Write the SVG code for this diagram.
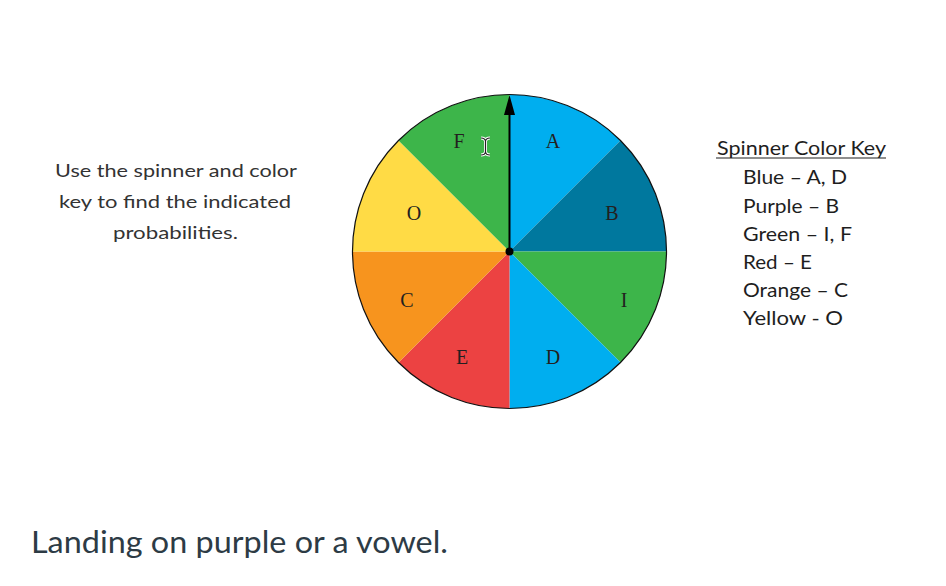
<svg xmlns="http://www.w3.org/2000/svg" width="946" height="586" viewBox="0 0 946 586">
<style>
.lbl{font-family:"Liberation Serif","Times New Roman",serif;font-size:20px;fill:#231f20;text-anchor:middle}
.inst{font-family:Lato,"Open Sans",sans-serif;font-size:18px;fill:#333;text-anchor:middle}
.key{font-family:Lato,"Open Sans",sans-serif;font-size:19px;fill:#1e1e1e}
.q{font-family:Lato,"Open Sans",sans-serif;font-size:31px;fill:#2d3b45}
</style>
<rect width="946" height="586" fill="#fff"/>
<g id="spinner">
<path d="M509.5 251.5 L509.5 94.5 A157 157 0 0 1 620.5 140.5 Z" fill="#00aeef"/>
<path d="M509.5 251.5 L620.5 140.5 A157 157 0 0 1 666.5 251.5 Z" fill="#00789e"/>
<path d="M509.5 251.5 L666.5 251.5 A157 157 0 0 1 620.5 362.5 Z" fill="#3db54a"/>
<path d="M509.5 251.5 L620.5 362.5 A157 157 0 0 1 509.5 408.5 Z" fill="#00aeef"/>
<path d="M509.5 251.5 L509.5 408.5 A157 157 0 0 1 398.5 362.5 Z" fill="#ec4242"/>
<path d="M509.5 251.5 L398.5 362.5 A157 157 0 0 1 352.5 251.5 Z" fill="#f7941e"/>
<path d="M509.5 251.5 L352.5 251.5 A157 157 0 0 1 398.5 140.5 Z" fill="#ffdb45"/>
<path d="M509.5 251.5 L398.5 140.5 A157 157 0 0 1 509.5 94.5 Z" fill="#3db54a"/>
<circle cx="509.5" cy="251.5" r="157" fill="none" stroke="#111" stroke-width="1.2"/>
<text class="lbl" x="553" y="147.5">A</text>
<text class="lbl" x="612" y="219.5">B</text>
<text class="lbl" x="624" y="307">I</text>
<text class="lbl" x="407" y="307">C</text>
<text class="lbl" x="553" y="364">D</text>
<text class="lbl" x="462" y="364">E</text>
<text class="lbl" x="414" y="219.5">O</text>
<text class="lbl" x="459" y="147.5">F</text>
<line x1="509.5" y1="251.5" x2="509.5" y2="112" stroke="#000" stroke-width="2"/>
<polygon points="509.5,95 504,115 515,115" fill="#000"/>
<circle cx="509.5" cy="251.5" r="4" fill="#000"/>
</g>
<g id="cursor">
<path d="M481 138 Q485 138 485.5 141 Q486 138 490 138 M485.5 141 L485.5 152 M481 155 Q485 155 485.5 152 Q486 155 490 155" fill="none" stroke="#fff" stroke-width="3"/>
<path d="M481 138 Q485 138 485.5 141 Q486 138 490 138 M485.5 141 L485.5 152 M481 155 Q485 155 485.5 152 Q486 155 490 155" fill="none" stroke="#222" stroke-width="1.2"/>
</g>
<g id="instructions">
<text class="inst" x="176" y="177" textLength="242" lengthAdjust="spacingAndGlyphs">Use the spinner and color</text>
<text class="inst" x="175" y="208" textLength="232" lengthAdjust="spacingAndGlyphs">key to find the indicated</text>
<text class="inst" x="175.5" y="239" textLength="125" lengthAdjust="spacingAndGlyphs">probabilities.</text>
</g>
<g id="color-key">
<text class="key" x="717" y="155" textLength="169" lengthAdjust="spacingAndGlyphs">Spinner Color Key</text>
<line x1="716" y1="158" x2="886" y2="158" stroke="#1e1e1e" stroke-width="1.2"/>
<text class="key" x="743" y="184" textLength="104" lengthAdjust="spacingAndGlyphs">Blue – A, D</text>
<text class="key" x="743" y="212.5" textLength="96" lengthAdjust="spacingAndGlyphs">Purple – B</text>
<text class="key" x="743" y="241" textLength="109" lengthAdjust="spacingAndGlyphs">Green – I, F</text>
<text class="key" x="743" y="269" textLength="69" lengthAdjust="spacingAndGlyphs">Red – E</text>
<text class="key" x="743" y="297" textLength="105" lengthAdjust="spacingAndGlyphs">Orange – C</text>
<text class="key" x="743" y="325" textLength="100" lengthAdjust="spacingAndGlyphs">Yellow - O</text>
</g>
<g id="question">
<text class="q" x="31" y="553" textLength="417" lengthAdjust="spacingAndGlyphs">Landing on purple or a vowel.</text>
</g>
</svg>
